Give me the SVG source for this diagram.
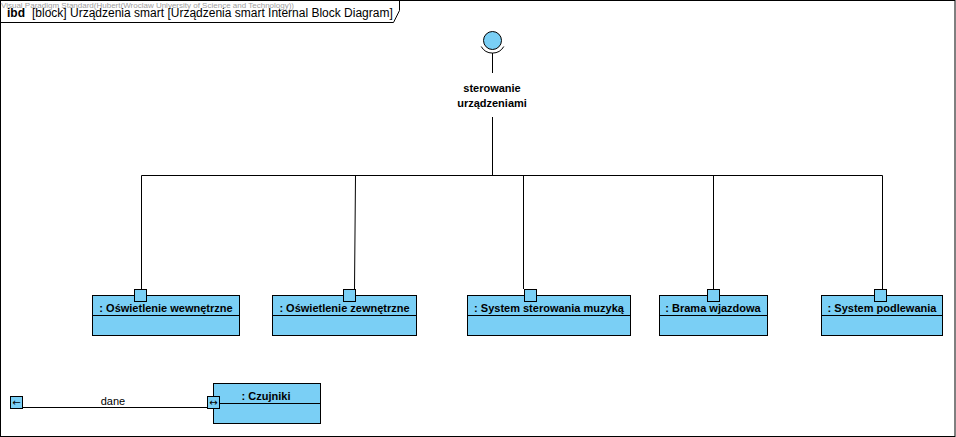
<svg xmlns="http://www.w3.org/2000/svg" width="956" height="437" viewBox="0 0 956 437">
<style>
.frame{fill:none;stroke:#000;stroke-width:1}
.blk{fill:#7ACFF5;stroke:#000;stroke-width:1}
.port{fill:#7ACFF5;stroke:#000;stroke-width:1}
.ln{fill:none;stroke:#000;stroke-width:1}
.t{font-family:"Liberation Sans",Arial,sans-serif;font-size:11px;font-weight:bold;fill:#000}
.lbl{font-family:"Liberation Sans",Arial,sans-serif;font-size:11px;fill:#000}
.sym{font-family:"DejaVu Sans",sans-serif;font-size:10px;fill:#000}
.wm{font-family:"Liberation Sans",Arial,sans-serif;font-size:8px;fill:#a0a0a0}
</style>
<rect x="0" y="0" width="956" height="437" fill="#fff"/>
<g id="frame">
<rect class="frame" x="0.5" y="0.5" width="954.5" height="436"/>
<path class="frame" d="M0.5,22.5 H393.5 L399.5,10.5 V0.5"/>
<text class="wm" x="1" y="8">Visual Paradigm Standard(Hubert(Wroclaw University of Science and Technology))</text>
<text x="7" y="17" font-family="Liberation Sans,Arial,sans-serif" font-size="12" fill="#000"><tspan font-weight="bold">ibd</tspan><tspan x="32">[block] Urządzenia smart [Urządzenia smart Internal Block Diagram]</tspan></text>
</g>
<g id="connectors">
<path class="ln" d="M492.5,117 V175.5"/>
<path class="ln" d="M141.5,289 V175.5 H882.5 V289"/>
<path class="ln" d="M355.5,175.5 L354.5,289"/>
<path class="ln" d="M523.5,175.5 V289"/>
<path class="ln" d="M713.5,175.5 V289"/>
<path class="ln" d="M22,407.5 H208"/>
<text class="lbl" x="113" y="405" text-anchor="middle">dane</text>
</g>
<g id="interface">
<path class="ln" d="M492.5,53 V73"/>
<path class="ln" d="M481.2,46.5 A13,13 0 0 0 503.8,46.5"/>
<circle class="port" cx="492.5" cy="40.5" r="9"/>
<text class="t" x="492" y="92" text-anchor="middle">sterowanie</text>
<text class="t" x="492" y="107" text-anchor="middle">urządzeniami</text>
</g>
<g id="n1">
<rect class="blk" x="92.5" y="295.5" width="147" height="40"/>
<path class="ln" d="M92.5,315.5 H239.5"/>
<rect class="port" x="134.5" y="289.5" width="12" height="12"/>
<text class="t" x="166" y="312" text-anchor="middle">: Oświetlenie wewnętrzne</text>
</g>
<g id="n2">
<rect class="blk" x="272.5" y="295.5" width="144" height="40"/>
<path class="ln" d="M272.5,315.5 H416.5"/>
<rect class="port" x="343.5" y="289.5" width="12" height="12"/>
<text class="t" x="344.5" y="312" text-anchor="middle">: Oświetlenie zewnętrzne</text>
</g>
<g id="n3">
<rect class="blk" x="467.5" y="295.5" width="163" height="40"/>
<path class="ln" d="M467.5,315.5 H630.5"/>
<rect class="port" x="524.5" y="289.5" width="12" height="12"/>
<text class="t" x="549" y="312" text-anchor="middle">: System sterowania muzyką</text>
</g>
<g id="n4">
<rect class="blk" x="659.5" y="295.5" width="108" height="40"/>
<path class="ln" d="M659.5,315.5 H767.5"/>
<rect class="port" x="707.5" y="289.5" width="12" height="12"/>
<text class="t" x="713" y="312" text-anchor="middle">: Brama wjazdowa</text>
</g>
<g id="n5">
<rect class="blk" x="821.5" y="295.5" width="121" height="40"/>
<path class="ln" d="M821.5,315.5 H942.5"/>
<rect class="port" x="874.5" y="289.5" width="12" height="12"/>
<text class="t" x="882" y="312" text-anchor="middle">: System podlewania</text>
</g>
<g id="n6">
<rect class="blk" x="213.5" y="383.5" width="107" height="40"/>
<path class="ln" d="M213.5,403.5 H320.5"/>
<rect class="port" x="207.5" y="396.5" width="12" height="12"/>
<text class="sym" x="213.5" y="406" text-anchor="middle">↔</text>
<text class="t" x="266" y="400" text-anchor="middle">: Czujniki</text>
</g>
<g id="p_left">
<rect class="port" x="10.5" y="396.5" width="12" height="12"/>
<text class="sym" x="16.5" y="406" text-anchor="middle">←</text>
</g>
</svg>
